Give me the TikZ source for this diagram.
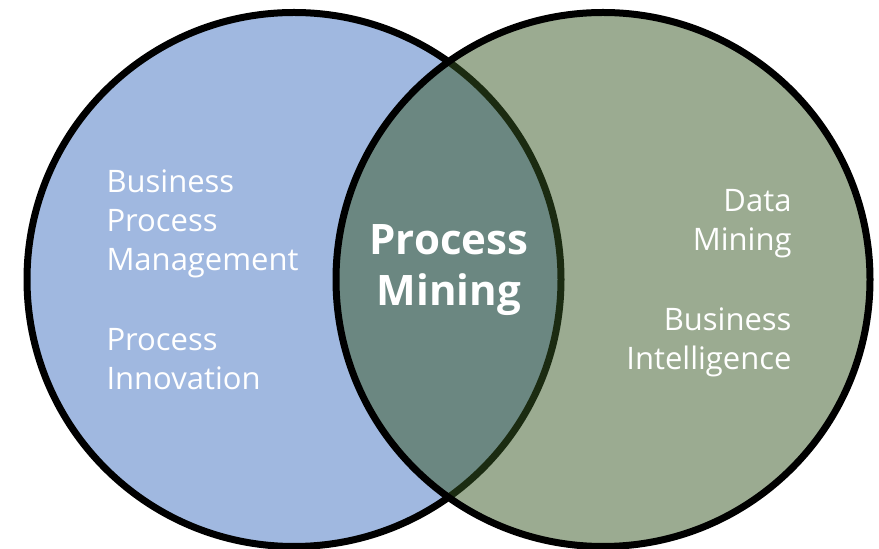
\documentclass[tikz,border=0pt]{standalone}
\usepackage{fontspec}
\setmainfont{Open Sans}
\definecolor{bpmblue}{RGB}{160,184,224}
\definecolor{dmgreen}{RGB}{55,87,35}

\begin{document}
\begin{tikzpicture}[x=1pt, y=1pt, line width=7pt,
    label text/.style={text=white, inner sep=0pt, font=\fontsize{31}{39}\selectfont},
    core text/.style={text=white, inner sep=0pt, font=\bfseries\fontsize{42}{51}\selectfont, align=center}]
        \useasboundingbox (0,0) rectangle (879,549);
        % the two sets
        \draw[fill=bpmblue] (294,269.5) circle (267);
        \fill[dmgreen, fill opacity=.5] (603,269.5) circle (267);
        \draw (603,269.5) circle (267);
        % labels
        \node[label text, align=left, anchor=west] (bpm) at (103,325) {Business\\Process\\Management};
        \node[label text, align=left, anchor=west] (pi) at (103,190) {Process\\Innovation};
        \node[label text, align=right, anchor=east] (dm) at (795,325) {Data\\Mining};
        \node[label text, align=right, anchor=east] (bi) at (795,207) {Business\\Intelligence};
        \node[core text] (pm) at (449,279) {Process\\Mining};
    \end{tikzpicture}
\end{document}
